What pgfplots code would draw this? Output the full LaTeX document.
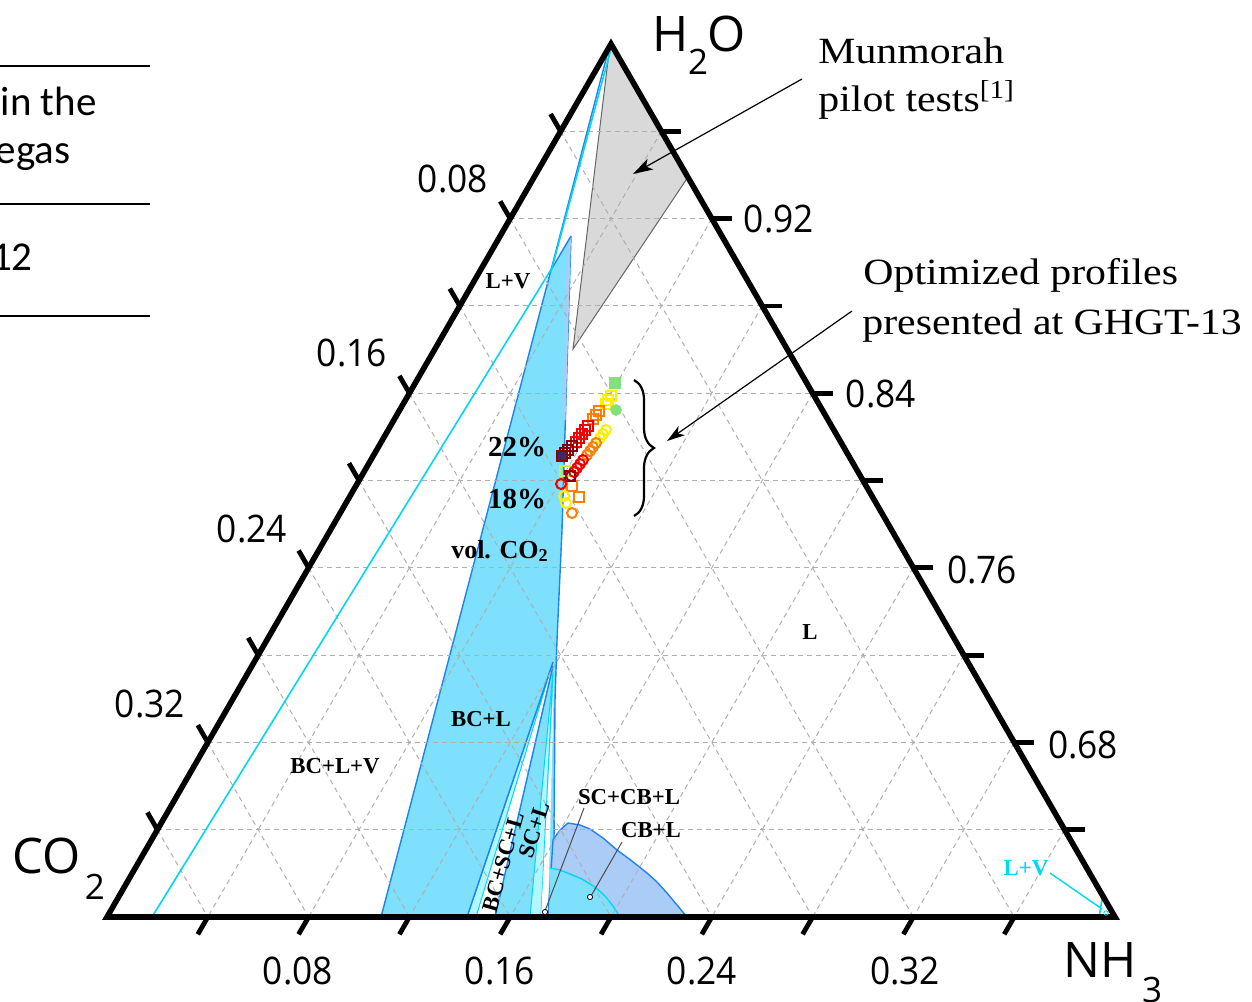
\documentclass[border=0pt]{standalone}
\usepackage{pgfplots}
\pgfplotsset{compat=1.18}
\usepackage{fontspec}
\usepackage{graphicx}
\usetikzlibrary{arrows.meta,decorations.pathreplacing}
\setmainfont{Liberation Serif}
\newfontfamily\osans{Open Sans}
\newfontfamily\calib{Carlito}

\definecolor{phblue}{RGB}{126,224,252}
\definecolor{phedge}{RGB}{30,130,240}
\definecolor{phcyan}{RGB}{0,215,240}
\definecolor{phlight}{RGB}{178,246,255}
\definecolor{phperi}{RGB}{170,204,246}
\definecolor{gridgray}{RGB}{175,175,175}
\definecolor{mungray}{RGB}{217,217,217}
\definecolor{myyellow}{RGB}{255,238,0}
\definecolor{myorange}{RGB}{255,125,0}
\definecolor{myred}{RGB}{240,0,0}
\definecolor{mydarkred}{RGB}{140,0,0}
\definecolor{mygreen}{RGB}{130,225,120}
\definecolor{mylime}{RGB}{200,240,70}
\definecolor{mynavy}{RGB}{60,40,110}

\tikzset{
  phlab/.style={font=\fontsize{11.4}{13}\selectfont\bfseries, inner sep=0pt},
  ticklab/.style={font=\osans\fontsize{19}{21}\selectfont, inner sep=0pt},
  bigsans/.style={font=\osans\fontsize{24.5}{26}\selectfont, inner sep=0pt},
  subsans/.style={font=\osans\fontsize{17.5}{19}\selectfont, inner sep=0pt},
  note/.style={font=\fontsize{18.5}{20}\selectfont, inner sep=0pt, anchor=base west},
}

\begin{document}
\begin{tikzpicture}
\useasboundingbox (0,0) rectangle (626pt,500.5pt);
\clip (0,0) rectangle (626pt,500.5pt);
\begin{axis}[
  scale only axis, width=626pt, height=500.5pt,
  at={(0,0)}, anchor=south west,
  xmin=0, xmax=1252, ymin=0, ymax=1001, y dir=reverse,
  hide axis, clip=false,
  grd/.style={gridgray, line width=0.5pt, dash pattern=on 2.5pt off 2pt, forget plot},
  tck/.style={black, line width=2.4pt, forget plot},
  sq/.style={only marks, mark=square, mark size=2.6pt, mark options={line width=1pt}},
  ci/.style={only marks, mark=o, mark size=2.5pt, mark options={line width=1pt}},
]

% ---------- Munmorah operating window ----------
\addplot[fill=mungray, draw=gray!80!black, line width=0.5pt] coordinates {
  (610,44) (688,177) (573,349) (610,44)};

% ---------- solid-liquid regions ----------
% BC+L and SC+L envelope
\addplot[fill=phblue, draw=phedge, line width=0.7pt] coordinates {
  (571,236) (551,270) (381,917) (548,917) (554,840) (555,700)
  (557,640) (562,530) (571,236)};
% thin strip along the saturation edge near the top
\addplot[fill=phperi, draw=none] coordinates {(571,237) (567,250) (563,420) (565.5,420) (571,237)};
% BC+SC+L three-phase triangle
\addplot[fill=white, draw=none] coordinates {(553,662) (476,917) (495,917) (553,662)};
\addplot[fill=phlight, draw=phcyan, line width=0.5pt] coordinates {(553,662) (467,917) (476,917) (553,662)};
\addplot[phedge, line width=0.7pt] coordinates {(553,662) (467,917)};
\addplot[phedge, line width=0.7pt] coordinates {(553,666) (495,917)};
% SC+L boundary strip
\addplot[fill=phlight, draw=phcyan, line width=0.5pt] coordinates {(553,672) (530,917) (541,917) (553,672)};
\addplot[fill=white, draw=none] coordinates {(554,678) (541,917) (548,917) (554,678)};
% SC+CB+L and CB+L
\addplot[fill=phperi, draw=phedge, line width=0.7pt] coordinates {
  (548,917) (553,840) (560,830) (568,823) (580,825) (590,829) (603,838)
  (617,850) (632,861) (647,873) (657,882) (667,893) (677,905) (687,917) (548,917)};
\addplot[fill=phblue, draw=none] coordinates {
  (549,917) (550,868) (560,870) (570,874) (582,879) (595,887) (605,896)
  (613,906) (620,917) (549,917)};
\addplot[phcyan, line width=0.7pt] coordinates {
  (550,868) (560,870) (570,874) (582,879) (595,887) (605,896) (613,906) (620,917)};

% ---------- grid (steps of 0.04) ----------
\addplot[grd] coordinates {(560.6,131.3) (661.4,131.3)};
\addplot[grd] coordinates {(510.2,218.6) (711.8,218.6)};
\addplot[grd] coordinates {(459.8,305.9) (762.2,305.9)};
\addplot[grd] coordinates {(409.4,393.2) (812.6,393.2)};
\addplot[grd] coordinates {(359.0,480.5) (863.0,480.5)};
\addplot[grd] coordinates {(308.6,567.8) (913.4,567.8)};
\addplot[grd] coordinates {(258.2,655.1) (963.8,655.1)};
\addplot[grd] coordinates {(207.8,742.4) (1014.2,742.4)};
\addplot[grd] coordinates {(157.4,829.7) (1064.6,829.7)};
\addplot[grd] coordinates {(661.4,131.3) (207.8,917)};
\addplot[grd] coordinates {(711.8,218.6) (308.6,917)};
\addplot[grd] coordinates {(762.2,305.9) (409.4,917)};
\addplot[grd] coordinates {(812.6,393.2) (510.2,917)};
\addplot[grd] coordinates {(863.0,480.5) (611.0,917)};
\addplot[grd] coordinates {(913.4,567.8) (711.8,917)};
\addplot[grd] coordinates {(963.8,655.1) (812.6,917)};
\addplot[grd] coordinates {(1014.2,742.4) (913.4,917)};
\addplot[grd] coordinates {(1064.6,829.7) (1014.2,917)};
\addplot[grd] coordinates {(560.6,131.3) (1014.2,917)};
\addplot[grd] coordinates {(510.2,218.6) (913.4,917)};
\addplot[grd] coordinates {(459.8,305.9) (812.6,917)};
\addplot[grd] coordinates {(409.4,393.2) (711.8,917)};
\addplot[grd] coordinates {(359.0,480.5) (611.0,917)};
\addplot[grd] coordinates {(308.6,567.8) (510.2,917)};
\addplot[grd] coordinates {(258.2,655.1) (409.4,917)};
\addplot[grd] coordinates {(207.8,742.4) (308.6,917)};
\addplot[grd] coordinates {(157.4,829.7) (207.8,917)};

% ---------- vapour boundaries ----------
\addplot[phedge, line width=0.7pt] coordinates {(610,44) (551,270)};
\addplot[phcyan, line width=0.8pt] coordinates {(612,45) (552,268) (152,917)};
\addplot[phcyan, line width=0.7pt] coordinates {(1050,873) (1102,909)};
\addplot[phcyan, line width=0.8pt] coordinates {(1103,893) (1099,918)};
\addplot[only marks, mark=o, mark size=1.1pt, phcyan, mark options={fill=white}] coordinates {(1106,913)};

% ---------- leader lines to invariant points ----------
\addplot[gray!60!black, line width=0.5pt] coordinates {(584,808) (545,911)};
\addplot[gray!60!black, line width=0.5pt] coordinates {(622,842) (591,896)};
\addplot[only marks, mark=*, mark size=1.3pt, black, mark options={fill=white, line width=0.4pt}] coordinates {(545,912) (590,897)};

% ---------- optimized absorber profiles ----------
% 22 vol.% CO2 (squares)
\addplot[sq, myyellow] coordinates {(611,396) (608,400) (606,404)};
\addplot[sq, myorange] coordinates {(599,411) (596,415) (593,419) (572,486) (579,497)};
\addplot[sq, myred] coordinates {(588,426) (585,430) (582,434) (579,438) (576,442)};
\addplot[sq, mydarkred] coordinates {(572,446) (568,450) (565,453) (570,476)};
\addplot[only marks, mark=square*, mark size=2.6pt, mydarkred, mark options={fill=mynavy, line width=1pt}] coordinates {(562,456)};
\addplot[sq, mylime] coordinates {(565,471)};
% 18 vol.% CO2 (circles)
\addplot[ci, myyellow] coordinates {(606,430) (603,434) (600,438) (564,496) (566,503)};
\addplot[ci, myorange] coordinates {(596,443) (593,447) (590,451) (587,455) (572,513)};
\addplot[ci, myred] coordinates {(583,460) (580,464) (577,468) (574,472) (561,484)};
\addplot[ci, mydarkred] coordinates {(571,476)};
% reference cases
\addplot[only marks, mark=square*, mark size=2.7pt, mygreen] coordinates {(615,383)};
\addplot[only marks, mark=*, mark size=2.7pt, mygreen] coordinates {(616,410)};

% ---------- triangle frame and ticks ----------
\addplot[black, line width=2.8pt, line join=miter, forget plot] coordinates {(107,917) (611,44) (1115,917) (107,917) (611,44)};
% CO2 side
\addplot[tck] coordinates {(560.6,131.3) (550.6,114.0)};
\addplot[tck] coordinates {(510.2,218.6) (500.2,201.3)};
\addplot[tck] coordinates {(459.8,305.9) (449.8,288.6)};
\addplot[tck] coordinates {(409.4,393.2) (399.4,375.9)};
\addplot[tck] coordinates {(359.0,480.5) (349.0,463.2)};
\addplot[tck] coordinates {(308.6,567.8) (298.6,550.5)};
\addplot[tck] coordinates {(258.2,655.1) (248.2,637.8)};
\addplot[tck] coordinates {(207.8,742.4) (197.8,725.1)};
\addplot[tck] coordinates {(157.4,829.7) (147.4,812.4)};
% H2O side
\addplot[tck] coordinates {(661.4,131.3) (681.4,131.3)};
\addplot[tck] coordinates {(711.8,218.6) (731.8,218.6)};
\addplot[tck] coordinates {(762.2,305.9) (782.2,305.9)};
\addplot[tck] coordinates {(812.6,393.2) (832.6,393.2)};
\addplot[tck] coordinates {(863.0,480.5) (883.0,480.5)};
\addplot[tck] coordinates {(913.4,567.8) (933.4,567.8)};
\addplot[tck] coordinates {(963.8,655.1) (983.8,655.1)};
\addplot[tck] coordinates {(1014.2,742.4) (1034.2,742.4)};
\addplot[tck] coordinates {(1064.6,829.7) (1084.6,829.7)};
% NH3 side
\addplot[tck] coordinates {(207.8,917) (197.8,934.3)};
\addplot[tck] coordinates {(308.6,917) (298.6,934.3)};
\addplot[tck] coordinates {(409.4,917) (399.4,934.3)};
\addplot[tck] coordinates {(510.2,917) (500.2,934.3)};
\addplot[tck] coordinates {(611.0,917) (601.0,934.3)};
\addplot[tck] coordinates {(711.8,917) (701.8,934.3)};
\addplot[tck] coordinates {(812.6,917) (802.6,934.3)};
\addplot[tck] coordinates {(913.4,917) (903.4,934.3)};
\addplot[tck] coordinates {(1014.2,917) (1004.2,934.3)};

% tick labels
\node[ticklab] at (axis cs:453,179) {\scalebox{0.93}[1]{0.08}};
\node[ticklab] at (axis cs:352,353) {\scalebox{0.93}[1]{0.16}};
\node[ticklab] at (axis cs:252,529) {\scalebox{0.93}[1]{0.24}};
\node[ticklab] at (axis cs:150,704) {\scalebox{0.93}[1]{0.32}};
\node[ticklab] at (axis cs:779,219) {\scalebox{0.93}[1]{0.92}};
\node[ticklab] at (axis cs:881,394) {\scalebox{0.93}[1]{0.84}};
\node[ticklab] at (axis cs:982,570) {\scalebox{0.93}[1]{0.76}};
\node[ticklab] at (axis cs:1083,745) {\scalebox{0.93}[1]{0.68}};
\node[ticklab] at (axis cs:298,971) {\scalebox{0.93}[1]{0.08}};
\node[ticklab] at (axis cs:500,971) {\scalebox{0.93}[1]{0.16}};
\node[ticklab] at (axis cs:702,971) {\scalebox{0.93}[1]{0.24}};
\node[ticklab] at (axis cs:905,971) {\scalebox{0.93}[1]{0.32}};

% component names
\node[bigsans] at (axis cs:671,34) {H};
\node[subsans] at (axis cs:698,62) {2};
\node[bigsans] at (axis cs:727,34) {O};
\node[bigsans] at (axis cs:47,856) {CO};
\node[subsans] at (axis cs:95,887) {2};
\node[bigsans] at (axis cs:1100,960) {NH};
\node[subsans] at (axis cs:1152,990) {3};

% phase labels
\node[phlab] at (axis cs:508,281) {L+V};
\node[phlab] at (axis cs:335,766) {BC+L+V};
\node[phlab] at (axis cs:481,719) {BC+L};
\node[phlab] at (axis cs:810,632) {L};
\node[phlab] at (axis cs:629,797) {SC+CB+L};
\node[phlab] at (axis cs:651,830) {CB+L};
\node[phlab, rotate=74] at (axis cs:503,862) {BC+SC+L};
\node[phlab, rotate=72] at (axis cs:534,830) {SC+L};
\node[phlab, text=phcyan] at (axis cs:1026,868) {L+V};
\node[font=\fontsize{14.5}{16}\selectfont\bfseries, inner sep=0pt] at (axis cs:517,447) {22\%};
\node[font=\fontsize{14.5}{16}\selectfont\bfseries, inner sep=0pt] at (axis cs:517,499) {18\%};
\node[font=\fontsize{13}{15}\selectfont\bfseries, inner sep=0pt] at (axis cs:500,551) {vol. CO\textsubscript{2}};

% callouts
\node[note] at (axis cs:818,63) {\scalebox{1.13}[1]{Munmorah}};
\node[note] at (axis cs:818,111) {\scalebox{1.13}[1]{pilot tests\textsuperscript{[1]}}};
\node[note] at (axis cs:863,284) {\scalebox{1.13}[1]{Optimized profiles}};
\node[note] at (axis cs:862,334) {\scalebox{1.13}[1]{presented at GHGT-13}};
\draw[line width=0.6pt, -{Stealth[length=10pt, width=6pt, inset=2.5pt]}] (axis cs:802,79) -- (axis cs:633,174);
\draw[line width=0.6pt, -{Stealth[length=9pt, width=5.5pt, inset=2.5pt]}] (axis cs:852,311) -- (axis cs:667,441);
\draw[decorate, decoration={brace, amplitude=10pt}, line width=1.1pt] (axis cs:634,380) -- (axis cs:634,516);

% table fragment at the left edge
\addplot[black, line width=1pt] coordinates {(0,66) (150,66)};
\addplot[black, line width=1pt] coordinates {(0,204) (150,204)};
\addplot[black, line width=1pt] coordinates {(0,316) (150,316)};
\node[font=\calib\fontsize{20.5}{22}\selectfont, inner sep=0pt, anchor=base east] at (axis cs:97,115) {in the};
\node[font=\calib\fontsize{20.5}{22}\selectfont, inner sep=0pt, anchor=base east] at (axis cs:71,163) {egas};
\node[font=\calib\fontsize{20.5}{22}\selectfont, inner sep=0pt, anchor=base east] at (axis cs:33,270) {12};
\end{axis}
\end{tikzpicture}
\end{document}
